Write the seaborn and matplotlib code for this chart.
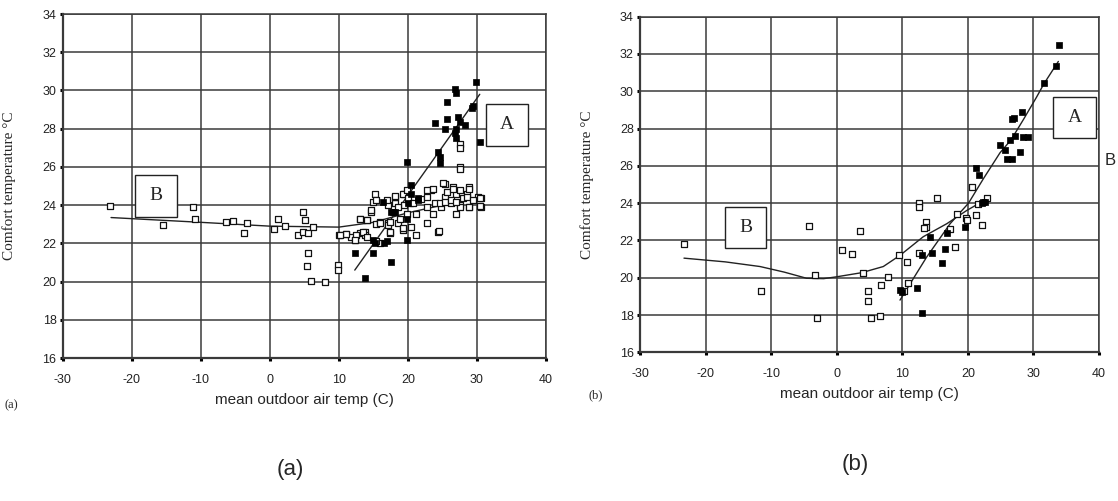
import numpy as np
import pandas as pd
import matplotlib
matplotlib.use("Agg")
import matplotlib.pyplot as plt
from matplotlib.patches import Rectangle
import seaborn as sns

# panel (a) - open squares
a_open_x = [-23.1, -15.5, -11.2, -10.9, -6.3, -5.3, -3.8, -3.3, 0.6, 1.2, 2.2, 4.8, 5.1, 6.3, 4.1, 4.8,
            5.5, 5.5, 5.45, 5.9, 8.0, 9.9, 9.9, 10.0, 11.1, 11.8, 12.3, 13.0, 13.75, 13.85, 14.7, 14.95,
            13.0, 14.0, 15.4, 15.9, 17.1, 15.9, 15.4, 17.4, 17.1, 18.6, 19.3, 21.2, 22.7, 24.4, 24.5,
            17.1, 18.1, 19.5, 27.5, 27.5, 27.6, 27.6, 25.3, 26.5, 28.9, 23.4, 22.7, 27.0, 28.5, 30.1,
            30.6, 18.1, 19.5, 25.3, 23.9, 26.3, 27.5, 28.9, 30.6, 21.95, 20.3, 15.2, 15.4, 14.7, 16.9,
            18.1, 19.3, 19.8, 20.0, 21.2, 22.7, 23.6, 25.1, 25.6, 26.5, 27.5, 28.9, 30.4, 30.4, 28.9,
            27.5, 27.0, 24.8, 23.6, 22.7, 20.7, 18.6, 19.8, 18.8, 17.4, 15.9, 14.0, 13.0, 13.5, 12.5,
            11.1, 10.1, 12.3, 14.0, 17.4, 19.3, 20.5, 24.6, 25.3, 26.3, 28.0, 28.5, 29.4, 27.0]
a_open_y = [23.95, 22.95, 23.88, 23.25, 23.1, 23.18, 22.52, 23.07, 22.73, 23.25, 22.9, 23.65, 23.2, 22.85, 22.45, 22.6,
            22.55, 21.5, 20.8, 20.05, 20.0, 20.85, 20.6, 22.43, 22.48, 22.34, 22.17, 22.52, 22.6, 22.43, 23.65, 24.17,
            23.3, 23.2, 23.0, 23.1, 23.04, 22.0, 22.1, 22.55, 22.95, 23.04, 22.7, 22.43, 23.04, 22.6, 22.65,
            24.0, 24.1, 24.0, 27.2, 26.97, 26.0, 25.9, 25.1, 24.96, 24.96, 24.8, 24.8, 24.6, 24.6, 24.4,
            24.38, 24.4, 24.6, 24.4, 24.1, 24.1, 24.0, 23.9, 23.9, 24.3, 24.1, 24.58, 24.26, 23.74, 24.26,
            24.5, 24.6, 24.8, 24.35, 23.56, 24.44, 24.87, 25.14, 24.7, 24.87, 24.8, 24.87, 24.38, 23.95, 23.9,
            23.9, 23.56, 23.9, 23.56, 23.9, 24.1, 23.9, 23.56, 23.3, 23.1, 23.04, 23.2, 23.3, 22.6, 22.43,
            22.5, 22.43, 22.17, 22.34, 22.6, 22.78, 22.87, 24.1, 24.17, 24.26, 24.35, 24.44, 24.26, 24.17]

# panel (a) - filled squares
a_fill_x = [29.9, 26.8, 26.9, 25.6, 23.9, 25.6, 25.4, 27.5, 28.2, 27.0, 26.8, 27.0, 29.3, 29.4, 30.4,
            24.4, 24.6, 24.6, 19.8, 20.5, 21.5, 20.0, 18.1, 19.8, 17.9, 16.4, 17.6, 12.3, 13.85, 14.95,
            14.95, 15.2, 16.6, 17.6, 16.9, 19.8, 21.5, 20.5, 27.3]
a_fill_y = [30.46, 30.1, 29.85, 29.4, 28.28, 28.5, 28.0, 28.36, 28.2, 28.0, 27.75, 27.5, 29.1, 29.2, 27.3,
            26.8, 26.5, 26.2, 26.27, 25.05, 24.35, 24.1, 23.65, 23.3, 23.65, 24.17, 23.65, 21.47, 20.2, 21.47,
            22.17, 22.0, 22.0, 21.0, 22.1, 22.2, 24.26, 24.6, 28.6]

# panel (a) - fitted lines
a_lineA_x = [12.3, 30.4]
a_lineA_y = [20.6, 29.8]
a_lineB_x = [-23.0, -10.0, 0.0, 10.0, 15.0, 20.0, 25.0, 30.4]
a_lineB_y = [23.35, 23.1, 22.9, 22.85, 23.1, 23.6, 24.0, 24.4]

# panel (b) - open squares
b_open_x = [-23.3, -4.3, -11.6, -3.3, -3.0, 0.8, 2.3, 3.6, 4.0, 4.8, 4.8, 6.7, 7.8, 9.5, 10.7, 12.5,
            12.5, 15.3, 13.6, 13.6, 13.3, 12.5, 10.9, 10.3, 18.3, 17.3, 18.0, 19.7, 21.3, 22.1, 22.9,
            21.6, 20.6, 5.2, 6.6, 19.8]
b_open_y = [21.8, 22.8, 19.3, 20.15, 17.85, 21.5, 21.25, 22.5, 20.25, 19.3, 18.75, 19.6, 20.05, 21.2, 20.86, 24.0,
            23.8, 24.26, 23.0, 22.7, 22.65, 21.35, 19.7, 19.3, 23.4, 22.6, 21.67, 23.19, 23.37, 22.83, 24.26,
            23.95, 24.85, 17.86, 17.97, 23.1]

# panel (b) - filled squares
b_fill_x = [9.65, 9.9, 12.2, 13.0, 13.0, 14.5, 16.5, 16.0, 14.3, 16.8, 19.6, 22.3, 22.6, 22.1, 21.2, 21.7,
            24.9, 25.7, 28.0, 25.9, 26.7, 27.2, 26.5, 28.4, 29.1, 28.2, 27.0, 26.8, 31.6, 33.5, 33.9]
b_fill_y = [19.35, 19.25, 19.44, 18.1, 21.22, 21.35, 21.53, 20.78, 22.2, 22.4, 22.74, 24.05, 24.08, 24.0, 25.9, 25.5,
            27.1, 26.85, 26.76, 26.37, 26.37, 27.6, 27.4, 27.53, 27.53, 28.9, 28.55, 28.5, 30.43, 31.36, 32.48]

# panel (b) - fitted curves
b_lineA_x = [9.65, 13.7, 17.3, 20.1, 22.35, 24.9, 26.6, 28.5, 30.5, 31.6, 33.8]
b_lineA_y = [18.8, 21.1, 22.9, 24.0, 25.3, 26.7, 27.4, 28.5, 29.7, 30.4, 31.6]
b_lineB_x = [-23.3, -17.0, -11.7, -8.0, -4.6, -2.0, 0.0, 3.8, 7.1, 9.65, 13.2, 16.8, 19.8, 23.0]
b_lineB_y = [21.05, 20.85, 20.6, 20.3, 19.97, 19.95, 20.05, 20.27, 20.6, 21.2, 22.2, 22.9, 23.6, 24.25]

x_ticks = [-30, -20, -10, 0, 10, 20, 30, 40]
y_ticks = [16, 18, 20, 22, 24, 26, 28, 30, 32, 34]

sns.set_style("white")
plt.rcParams['font.family'] = ['Liberation Sans', 'DejaVu Sans']
plt.rcParams['axes.unicode_minus'] = False
serif = ['Liberation Serif', 'DejaVu Serif']

fig = plt.figure(figsize=(11.18, 5.01), dpi=100)
ax1 = fig.add_axes([0.0561, 0.2854, 0.4323, 0.6866])
ax2 = fig.add_axes([0.5725, 0.2968, 0.4105, 0.6699])

panels = [
    (ax1, a_open_x, a_open_y, a_fill_x, a_fill_y, a_lineA_x, a_lineA_y, a_lineB_x, a_lineB_y,
     (31.3, 27.1, 6.1, 2.2), (-19.6, 23.4, 6.1, 2.2)),
    (ax2, b_open_x, b_open_y, b_fill_x, b_fill_y, b_lineA_x, b_lineA_y, b_lineB_x, b_lineB_y,
     (33.0, 27.5, 6.5, 2.2), (-17.0, 21.6, 6.2, 2.2)),
]

for ax, ox, oy, fx, fy, lax, lay, lbx, lby, boxA, boxB in panels:
    opn = pd.DataFrame({'x': ox, 'y': oy})
    fil = pd.DataFrame({'x': fx, 'y': fy})
    la = pd.DataFrame({'x': lax, 'y': lay})
    lb = pd.DataFrame({'x': lbx, 'y': lby})

    sns.lineplot(data=lb, x='x', y='y', sort=False, estimator=None, color='#222222', lw=1.0, ax=ax, zorder=3)
    sns.lineplot(data=la, x='x', y='y', sort=False, estimator=None, color='#222222', lw=1.0, ax=ax, zorder=3)
    sns.scatterplot(data=opn, x='x', y='y', marker='s', s=24, facecolor='white', edgecolor='#111111',
                    linewidth=0.9, ax=ax, zorder=4)
    sns.scatterplot(data=fil, x='x', y='y', marker='s', s=24, color='black', edgecolor='black',
                    linewidth=0.5, ax=ax, zorder=5)

    for (bx, by, bw, bh), lab in [(boxA, 'A'), (boxB, 'B')]:
        ax.add_patch(Rectangle((bx, by), bw, bh, facecolor='white', edgecolor='#222222', lw=1.0, zorder=6))
        ax.text(bx + bw / 2, by + bh / 2, lab, ha='center', va='center', fontsize=14,
                family=serif, zorder=7)

    ax.set_xlim(-30, 40)
    ax.set_ylim(16, 34)
    ax.set_xticks(x_ticks)
    ax.set_yticks(y_ticks)
    ax.grid(True, color='#3a3a3a', lw=1.1)
    ax.set_axisbelow(True)
    for sp in ax.spines.values():
        sp.set_color('#3a3a3a')
        sp.set_linewidth(1.1)
    ax.spines['left'].set_linewidth(1.6)
    ax.spines['bottom'].set_linewidth(1.6)
    ax.tick_params(axis='both', which='both', direction='out', length=2.5, width=2.2, color='black',
                   labelsize=9, labelcolor='#222222', left=True, bottom=True)
    ax.tick_params(axis='x', pad=9)
    ax.tick_params(axis='y', pad=2)
    ax.set_xlabel('mean outdoor air temp (C)', fontsize=11, labelpad=5)
    ax.set_ylabel('Comfort temperature \u00b0C', fontsize=11, family=serif, labelpad=8)

ax1.yaxis.set_label_coords(-0.097, 0.5)
ax2.yaxis.set_label_coords(-0.100, 0.5)

fig.text(0.004, 0.186, '(a)', fontsize=9, family=serif)
fig.text(0.526, 0.205, '(b)', fontsize=9, family=serif)
fig.text(0.260, 0.052, '(a)', fontsize=16, ha='center')
fig.text(0.765, 0.062, '(b)', fontsize=16, ha='center')
fig.text(0.988, 0.68, 'B', fontsize=12, ha='left', va='center')

fig.savefig('out.png', dpi=100)
